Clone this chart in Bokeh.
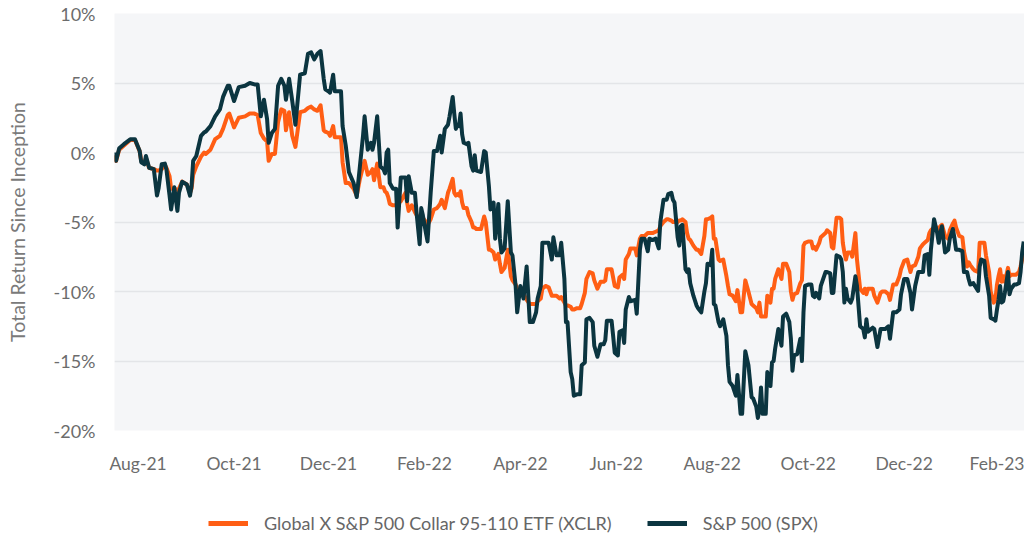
from bokeh.plotting import figure
from bokeh.layouts import column
from bokeh.models import FixedTicker, PrintfTickFormatter, Legend, LegendItem, Range1d
from bokeh.embed import file_html
from bokeh.resources import INLINE

# calendar days since inception
days = [0, 1, 3, 6, 10, 13, 16, 17, 19, 20, 22, 25, 27, 28, 30, 32, 33, 35, 36, 38,
        40, 41, 43, 46, 48, 49, 50, 52, 55, 57, 58, 61, 64, 67, 69, 72,
        73, 76, 79, 83, 86, 89, 91, 93, 95, 97, 98, 100, 102, 104, 106, 108, 109, 111, 113, 115,
        118, 121, 123, 125, 127, 129, 131, 133, 134, 136, 137, 139, 140, 142, 144,
        145, 147, 149, 152, 154, 156, 158, 159, 161, 163, 164, 165, 167, 169, 171, 172, 173, 174, 175, 177,
        179, 180, 182, 185, 186, 187, 189, 191, 192, 194, 195, 196, 198, 199, 201, 203, 205, 207, 208, 210,
        212, 213, 215, 216, 217, 218,
        219, 220, 221, 222, 224, 225, 227, 228, 229, 230, 233, 235, 236, 238, 239, 241, 242, 244, 245, 246,
        248, 250, 252, 253, 255, 256, 258, 260, 262, 264, 266, 268, 269, 271, 272, 274, 276, 278, 279, 281,
        283, 284, 286, 287, 288, 290, 291,
        292, 294, 296, 297, 299, 300, 302, 304, 305, 307, 309, 311, 312, 313, 316, 317, 318, 320, 321, 323,
        324, 325, 327, 328, 331, 332, 334, 335, 337, 339, 340, 342, 344, 346, 347, 349, 351, 352, 354, 355,
        356, 358, 359, 360, 361, 363, 364,
        365, 366, 368, 370, 371, 373, 375, 376, 377, 379, 380, 381, 382, 384, 385, 387, 389, 390, 391, 393,
        395, 396, 398, 399, 401, 403, 405, 406, 408, 409, 410, 411, 412, 414, 415, 417, 418, 419, 420, 422,
        424, 425, 427, 429, 430, 431, 432, 434, 436, 437,
        438, 439, 441, 443, 444, 445, 446, 448, 449, 452, 453, 455, 456, 457, 459, 461, 462, 463, 464, 465,
        466, 468, 469, 471, 472, 474, 476, 477, 478, 479, 481, 482, 483, 485, 487, 488, 490, 492, 493, 495,
        497, 499, 500, 502, 504, 506, 507, 509, 511,
        512, 514, 515, 517, 518, 519, 521, 523, 524, 525, 526, 528, 530, 531, 533, 534, 535, 537, 539, 540,
        542, 543, 544, 546, 547, 549, 550, 551, 553, 554, 556, 557, 559, 560, 561, 562, 563, 564, 565, 566,
        568, 569, 570, 572, 573, 575, 576, 577, 578]

# Total return since inception, %
spx = [0.0, -0.6, 0.3, 0.6, 0.95, 0.95, 0.1, -0.7, -0.85, -0.25, -1.1, -1.2, -3.1, -2.6, -0.85, -0.8, -1.2, -3.1, -4.1, -2.5,
       -4.2, -2.9, -2.1, -2.3, -3.1, -2.4, -0.6, -0.25, 1.2, 1.45, 1.5, 1.9, 2.6, 3.1, 4.0, 4.8,
       4.8, 3.7, 4.7, 4.8, 5.0, 4.9, 4.9, 2.6, 3.8, 2.4, 0.7, 1.4, 1.7, 4.8, 5.3, 4.8, 3.8, 5.3, 3.7, 2.0,
       5.6, 5.7, 7.1, 7.2, 6.7, 7.1, 7.3, 5.3, 4.55, 4.4, 4.3, 5.6, 4.4, 4.4, 4.4,
       1.9, 0.5, -1.4, -2.2, -3.2, -1.0, 1.2, 2.6, 0.2, 0.7, 0.2, 0.7, 2.6, -1.0, -1.2, -1.5, 0.0, 0.2, -2.2, -2.6,
       -2.6, -5.4, -1.8, -1.8, -3.5, -1.7, -2.9, -2.9, -4.3, -6.6, -4.0, -4.5, -5.8, -6.4, -2.9, 0.1, 0.1, 1.2, 0.0, 1.7,
       2.0, 2.6, 4.0, 2.8, 1.7, 2.0,
       1.9, 2.8, 1.3, 0.7, 0.6, 0.7, -1.0, -1.3, -0.2, -1.3, -1.4, 0.1, 0.0, -2.4, -4.1, -3.6, -6.2, -3.7, -6.2, -7.2,
       -6.9, -3.5, -7.2, -7.4, -9.6, -11.5, -9.6, -10.5, -8.2, -12.2, -12.2, -11.5, -10.5, -9.6, -6.5, -6.5, -6.5, -7.7, -6.1, -7.4,
       -7.4, -6.5, -9.1, -12.2, -12.2, -15.8, -16.3,
       -17.5, -17.4, -17.4, -15.3, -15.1, -12.0, -11.9, -12.2, -13.9, -14.7, -13.8, -13.8, -13.5, -12.1, -12.1, -13.2, -14.4, -14.6, -12.9, -12.8,
       -13.7, -11.3, -10.4, -10.7, -10.6, -11.6, -7.0, -6.2, -6.2, -7.1, -6.2, -6.3, -6.2, -6.9, -5.0, -3.4, -3.4, -3.0, -2.9, -3.4,
       -3.6, -6.1, -6.7, -5.3, -5.2, -8.4, -8.6,
       -8.4, -9.4, -10.3, -11.0, -11.2, -11.5, -10.0, -9.4, -8.0, -8.1, -7.0, -10.9, -11.0, -12.2, -12.5, -12.0, -13.2, -15.3, -16.5, -16.8,
       -17.5, -16.0, -18.8, -18.8, -14.3, -15.3, -17.6, -17.7, -18.3, -19.1, -18.5, -16.9, -18.8, -18.8, -15.8, -16.8, -15.1, -15.0, -14.1, -12.7,
       -13.9, -11.8, -11.6, -12.2, -13.4, -15.7, -14.6, -14.5, -13.4, -15.0,
       -11.5, -9.6, -9.5, -9.5, -10.3, -10.4, -10.1, -10.5, -9.6, -8.6, -8.6, -8.7, -10.1, -10.1, -7.4, -7.5, -7.7, -8.6, -10.8, -9.8,
       -10.5, -10.8, -10.5, -8.9, -9.6, -12.5, -12.7, -13.3, -12.0, -12.9, -12.7, -12.6, -12.7, -14.0, -12.7, -12.7, -12.7, -12.5, -13.4, -11.5,
       -11.5, -11.3, -10.2, -9.1, -9.1, -10.1, -11.3, -9.6, -8.6,
       -8.6, -8.6, -7.4, -7.3, -8.8, -7.0, -4.8, -5.8, -6.5, -5.8, -5.3, -7.2, -7.0, -6.2, -5.5, -6.2, -7.0, -7.0, -7.1, -8.6,
       -8.6, -9.1, -9.5, -9.4, -9.6, -9.95, -8.2, -7.7, -7.8, -8.9, -10.3, -11.9, -12.0, -12.1, -11.3, -10.6, -9.6, -10.8, -10.7, -10.1,
       -8.6, -10.2, -9.8, -9.5, -9.5, -9.4, -8.6, -7.2, -6.4]

xclr = [-0.2, -0.6, 0.2, 0.5, 0.9, 0.9, 0.1, -0.6, -0.8, -0.4, -1.1, -1.2, -1.3, -1.3, -1.2, -0.9, -1.1, -1.7, -2.6, -2.6,
        -2.7, -2.6, -2.1, -2.3, -2.9, -2.6, -1.6, -1.0, -0.3, 0.0, -0.1, 0.2, 0.96, 1.2, 1.7, 2.7,
        2.8, 1.8, 2.5, 2.6, 2.8, 2.8, 2.7, 1.4, 1.0, 0.8, -0.6, -0.1, -0.1, 2.2, 3.1, 3.0, 1.6, 2.9, 1.2, 0.4,
        2.9, 3.0, 3.2, 3.3, 3.1, 3.0, 3.4, 1.6, 1.5, 1.4, 1.2, 1.9, 1.1, 1.1, 1.1,
        -0.7, -2.2, -2.2, -2.6, -3.1, -1.9, -1.0, -0.6, -1.6, -1.4, -1.2, -2.0, -0.8, -2.5, -2.5, -2.8, -2.9, -3.2, -3.7, -3.8,
        -3.8, -3.7, -3.5, -2.9, -3.6, -4.2, -3.8, -4.3, -4.5, -4.8, -4.8, -4.7, -5.0, -5.2, -4.8, -4.1, -4.0, -3.7, -3.4, -4.0,
        -2.9, -2.6, -1.9, -2.9, -3.1, -3.0,
        -3.1, -2.8, -3.6, -4.0, -4.0, -4.5, -5.0, -5.4, -5.4, -5.5, -5.5, -4.6, -5.0, -7.0, -7.0, -7.2, -7.7, -7.3, -8.0, -8.6,
        -8.3, -7.0, -8.9, -9.2, -9.5, -9.8, -10.2, -10.2, -10.6, -10.9, -10.9, -10.9, -10.7, -10.5, -9.8, -9.6, -9.7, -10.3, -10.3, -10.3,
        -10.5, -10.4, -10.8, -11.0, -11.0, -11.1, -11.3,
        -11.3, -11.2, -11.2, -10.9, -10.1, -9.1, -8.6, -8.7, -9.2, -9.8, -9.3, -9.3, -9.2, -8.4, -8.4, -9.0, -9.6, -9.7, -9.0, -8.8,
        -9.1, -7.7, -7.3, -6.9, -6.9, -7.4, -6.2, -6.0, -6.0, -5.8, -5.8, -5.8, -5.7, -5.6, -5.3, -5.0, -4.8, -4.8, -4.9, -5.0,
        -5.0, -5.0, -4.9, -4.9, -4.8, -5.0, -5.8,
        -6.2, -6.3, -6.7, -7.0, -7.0, -7.3, -6.0, -4.8, -4.8, -4.7, -4.6, -6.2, -6.2, -7.7, -7.8, -7.7, -8.9, -9.6, -10.2, -10.3,
        -10.7, -9.9, -11.5, -11.5, -9.2, -10.0, -10.9, -11.0, -11.2, -11.5, -10.8, -11.8, -11.8, -11.8, -10.3, -10.8, -9.8, -9.8, -9.1, -8.4,
        -9.1, -8.0, -8.0, -8.6, -10.0, -10.6, -10.2, -10.1, -9.4, -9.2,
        -6.7, -6.5, -6.4, -6.4, -6.9, -6.8, -7.0, -6.5, -6.1, -5.8, -5.6, -5.8, -6.8, -6.9, -4.7, -4.7, -4.8, -6.5, -7.2, -7.7,
        -7.2, -7.2, -7.5, -5.8, -7.7, -9.8, -10.1, -9.8, -10.2, -9.8, -9.8, -9.8, -10.3, -10.8, -10.1, -10.0, -10.0, -10.2, -10.6, -9.5,
        -9.5, -8.9, -8.4, -7.8, -7.7, -8.6, -8.2, -8.1, -7.5,
        -6.9, -6.6, -6.5, -6.3, -5.8, -5.6, -5.4, -5.4, -5.5, -5.3, -5.2, -6.0, -6.2, -5.6, -5.1, -4.9, -5.4, -6.0, -6.1, -7.1,
        -8.2, -7.9, -8.1, -8.4, -8.5, -8.6, -6.5, -6.5, -6.5, -7.4, -8.6, -10.0, -10.8, -10.6, -9.5, -8.9, -8.4, -9.3, -8.9, -9.3,
        -8.3, -8.9, -8.8, -8.8, -8.8, -8.6, -8.2, -7.7, -7.2]

month_labels = ["Aug-21", "Oct-21", "Dec-21", "Feb-22", "Apr-22", "Jun-22",
                "Aug-22", "Oct-22", "Dec-22", "Feb-23"]
y_ticks = [-20, -15, -10, -5, 0, 5, 10]
series_names = ["Global X S&P 500 Collar 95-110 ETF (XCLR)", "S&P 500 (SPX)"]

ORANGE = "#FF5E14"
DARK = "#0B3540"
FONT = "Lato"

# ---- main chart ----
p = figure(width=1024, height=496, output_backend="svg", toolbar_location=None,
           x_range=Range1d(0, 578.5), y_range=Range1d(-20, 10),
           min_border_left=114, min_border_right=0, min_border_top=13, min_border_bottom=66)
p.background_fill_color = "#F5F6F8"
p.border_fill_color = "white"
p.outline_line_color = None

p.line(days, xclr, line_color=ORANGE, line_width=4, line_join="round")
p.line(days, spx, line_color=DARK, line_width=4, line_join="round")

p.xgrid.visible = False
p.ygrid.grid_line_color = "#E3E5E8"
p.ygrid.grid_line_width = 1.5

p.yaxis.ticker = FixedTicker(ticks=y_ticks)
p.yaxis.formatter = PrintfTickFormatter(format="%d%%")
p.yaxis.axis_label = "Total Return Since Inception"
p.yaxis.axis_label_text_font = FONT
p.yaxis.axis_label_text_font_size = "19.5px"
p.yaxis.axis_label_text_font_style = "normal"
p.yaxis.axis_label_text_color = "#7a7a7a"
p.yaxis.axis_label_standoff = 22
p.yaxis.major_label_standoff = 19

tick_pos = [round(14.6 + 60.9 * i) for i in range(len(month_labels))]
p.xaxis.ticker = FixedTicker(ticks=tick_pos)
p.xaxis.major_label_overrides = {t: lab for t, lab in zip(tick_pos, month_labels)}
p.xaxis.major_label_standoff = 22

for ax in (p.xaxis, p.yaxis):
    ax.axis_line_color = None
    ax.major_tick_line_color = None
    ax.minor_tick_line_color = None
    ax.major_tick_out = 0
    ax.major_tick_in = 0
    ax.minor_tick_out = 0
    ax.minor_tick_in = 0
    ax.major_label_text_font = FONT
    ax.major_label_text_color = "#6c6c6c"
p.yaxis.major_label_text_font_size = "18px"
p.xaxis.major_label_text_font_size = "17.5px"

# ---- legend strip (its series lines lie outside its y range, so only the key shows) ----
lg = figure(width=1024, height=38, output_backend="svg", toolbar_location=None,
            x_range=Range1d(0, 578.5), y_range=Range1d(100, 101),
            x_axis_type=None, y_axis_type=None, min_border=0)
lg.outline_line_color = None
lg.xgrid.visible = False
lg.ygrid.visible = False
k1 = lg.line(days, xclr, line_color=ORANGE, line_width=5)
k2 = lg.line(days, spx, line_color=DARK, line_width=5)

legend = Legend(items=[LegendItem(label=series_names[0], renderers=[k1]),
                       LegendItem(label=series_names[1], renderers=[k2])],
                orientation="horizontal", location=(94, 0),
                label_text_font=FONT, label_text_font_size="18px", label_text_color="#666666",
                glyph_width=40, glyph_height=18, label_height=18, label_standoff=16,
                spacing=35, padding=0, margin=0,
                border_line_color=None, background_fill_alpha=0)
lg.add_layout(legend)

layout = column(p, lg, spacing=0)
open("out.html", "w").write(file_html(layout, INLINE))
